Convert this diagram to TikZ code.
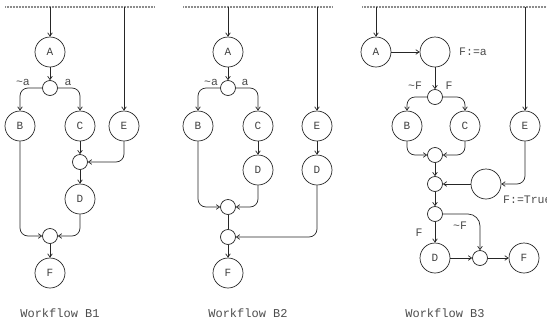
\documentclass[tikz,border=0pt]{standalone}
\usepackage{fontspec}
\setmonofont{Liberation Mono}
\usetikzlibrary{arrows.meta}
\tikzset{
  every node/.style={font=\ttfamily\fontsize{11}{13}\selectfont, text=black!75},
  task/.style={circle, draw=black!85, line width=0.7pt, minimum size=30pt, inner sep=0pt},
  junc/.style={circle, draw=black!85, line width=0.7pt, minimum size=15pt, inner sep=0pt},
  arr/.style={draw=black!85, line width=0.7pt, -{Straight Barb[angle=70:4pt]}},
  ln/.style={draw=black!85, line width=0.7pt},
  rc/.style={rounded corners=8pt},
  topline/.style={draw=black!45, line width=1.4pt, dash pattern=on 1pt off 0.5pt},
  wfcap/.style={font=\ttfamily\fontsize{12}{14}\selectfont, text=black!70},
  lbl/.style={font=\ttfamily\fontsize{11.5}{13}\selectfont, text=black!70, inner sep=0pt}
}
\begin{document}
\begin{tikzpicture}[x=1pt,y=-1pt]
\useasboundingbox (0,0) rectangle (547,322);
\clip (0,0) rectangle (547,322);
% ---------------- B1 ----------------
\coordinate (l1a) at (5,7); \coordinate (l1b) at (155,7);
\draw[topline] (l1a) -- (l1b);
\coordinate (t1a) at (50,7); \coordinate (t1e) at (124,7);
\node[task] (A1) at (50,52) {A};
\node[junc] (j1a) at (50,88) {};
\node[task] (B1) at (20,126) {B};
\node[task] (C1) at (80,126) {C};
\node[task] (E1) at (124,126) {E};
\node[junc] (j1b) at (80,162) {};
\node[task] (D1) at (80,199) {D};
\node[junc] (j1c) at (50,236) {};
\node[task] (F1) at (50,273) {F};
\node[lbl] (n1a) at (23,82) {\textasciitilde a};
\node[lbl] (n1b) at (68,82) {a};
\node[wfcap] (c1) at (60,313) {Workflow B1};
\draw[arr] (t1a) -- (A1);
\draw[arr] (t1e) -- (E1);
\draw[arr] (A1) -- (j1a);
\draw[arr,rc] (j1a.west) -| (B1.north);
\draw[arr,rc] (j1a.east) -| (C1.north);
\draw[arr] (C1) -- (j1b);
\draw[arr,rc] (E1.south) |- (j1b.east);
\draw[arr] (j1b) -- (D1);
\draw[arr,rc] (B1.south) |- (j1c.west);
\draw[arr,rc] (D1.south) |- (j1c.east);
\draw[arr] (j1c) -- (F1);
% ---------------- B2 ----------------
\coordinate (l2a) at (183,7); \coordinate (l2b) at (333,7);
\draw[topline] (l2a) -- (l2b);
\coordinate (t2a) at (228,7); \coordinate (t2e) at (317,7);
\node[task] (A2) at (228,52) {A};
\node[junc] (j2a) at (228,88) {};
\node[task] (B2) at (198,126) {B};
\node[task] (C2) at (258,126) {C};
\node[task] (E2) at (317,126) {E};
\node[task] (D2a) at (258,170) {D};
\node[task] (D2b) at (317,170) {D};
\node[junc] (j2b) at (228,207) {};
\node[junc] (j2c) at (228,237) {};
\node[task] (F2) at (228,273) {F};
\node[lbl] (n2a) at (211,82) {\textasciitilde a};
\node[lbl] (n2b) at (245,82) {a};
\node[wfcap] (c2) at (248,313) {Workflow B2};
\draw[arr] (t2a) -- (A2);
\draw[arr] (t2e) -- (E2);
\draw[arr] (A2) -- (j2a);
\draw[arr,rc] (j2a.west) -| (B2.north);
\draw[arr,rc] (j2a.east) -| (C2.north);
\draw[arr] (C2) -- (D2a);
\draw[arr] (E2) -- (D2b);
\draw[arr,rc] (B2.south) |- (j2b.west);
\draw[arr,rc] (D2a.south) |- (j2b.east);
\draw[ln] (j2b) -- (j2c);
\draw[arr,rc] (D2b.south) |- (j2c.east);
\draw[arr] (j2c) -- (F2);
% ---------------- B3 ----------------
\coordinate (l3a) at (362,7); \coordinate (l3b) at (547,7);
\draw[topline] (l3a) -- (l3b);
\coordinate (t3a) at (376,7); \coordinate (t3e) at (525,7);
\node[task] (A3) at (376,52) {A};
\node[task] (S3) at (435,52) {};
\node[junc] (j3a) at (435,97) {};
\node[task] (B3) at (407,126) {B};
\node[task] (C3) at (465,126) {C};
\node[task] (E3) at (525,126) {E};
\node[junc] (j3b) at (435,155) {};
\node[junc] (j3c) at (435,184) {};
\node[task] (T3) at (486,184) {};
\node[junc] (j3d) at (435,214) {};
\node[task] (D3) at (435,258) {D};
\node[junc] (j3e) at (480,258) {};
\node[task] (F3) at (524,258) {F};
\node[lbl, anchor=west] (n3fa) at (459,52) {F:=a};
\node[lbl, anchor=west] (n3ft) at (503,200) {F:=True};
\node[lbl] (n3a) at (415,86) {\textasciitilde F};
\node[lbl] (n3b) at (449,86) {F};
\node[lbl] (n3c) at (419,233) {F};
\node[lbl] (n3d) at (460,226) {\textasciitilde F};
\node[wfcap] (c3) at (445,313) {Workflow B3};
\draw[arr] (t3a) -- (A3);
\draw[arr] (t3e) -- (E3);
\draw[arr] (A3) -- (S3);
\draw[arr] (S3) -- (j3a);
\draw[arr,rc] (j3a.west) -| (B3.north);
\draw[arr,rc] (j3a.east) -| (C3.north);
\draw[arr,rc] (B3.south) |- (j3b.west);
\draw[arr,rc] (C3.south) |- (j3b.east);
\draw[arr] (j3b) -- (j3c);
\draw[arr] (T3) -- (j3c);
\draw[arr,rc] (E3.south) |- (T3.east);
\draw[arr] (j3c) -- (j3d);
\draw[arr] (j3d) -- (D3);
\draw[arr,rounded corners=12pt] (j3d.east) -| (j3e.north);
\draw[arr] (D3) -- (j3e);
\draw[arr] (j3e) -- (F3);
\end{tikzpicture}
\end{document}
